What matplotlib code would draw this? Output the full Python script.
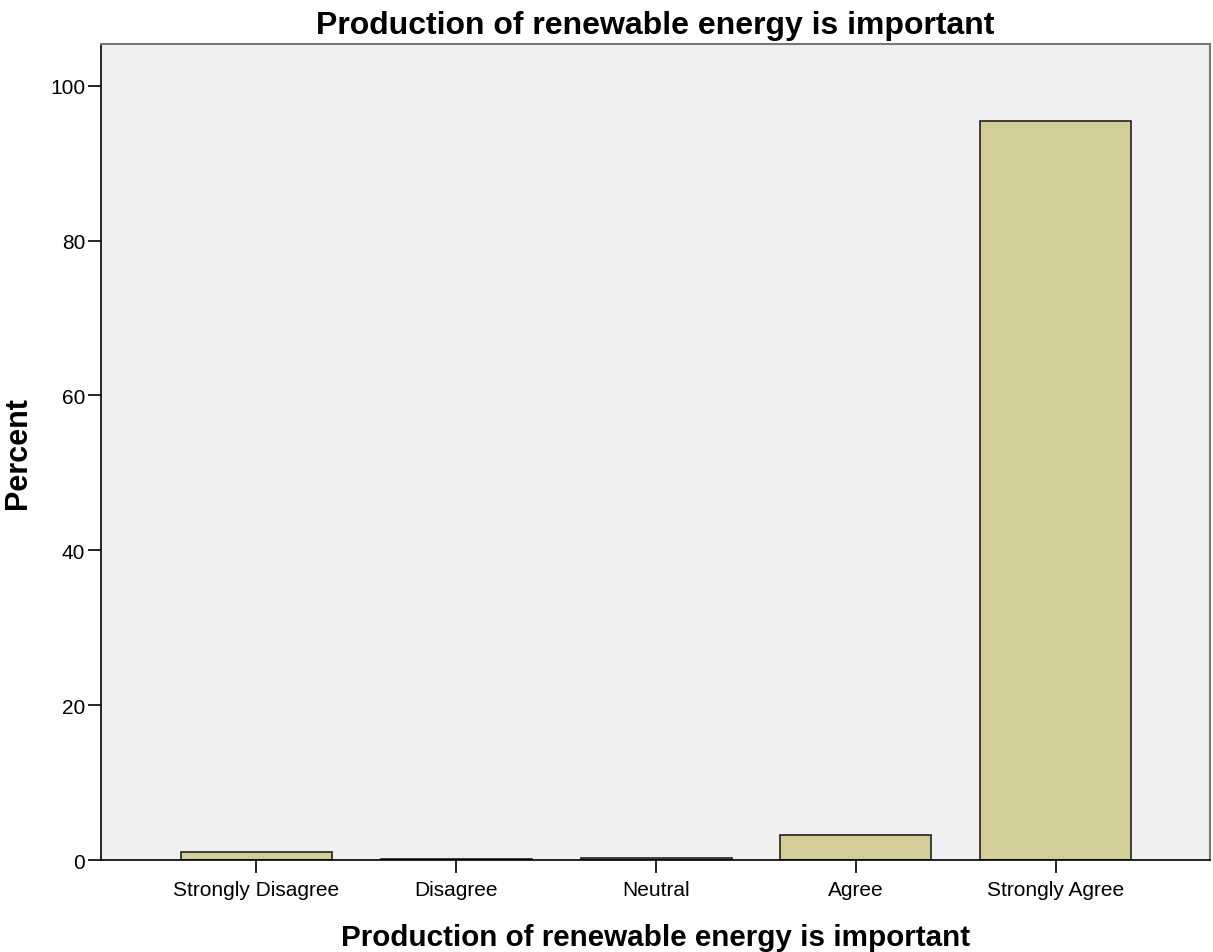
import matplotlib
matplotlib.use("Agg")
import matplotlib.pyplot as plt

# Response categories and percent of respondents
categories = ["Strongly Disagree", "Disagree", "Neutral", "Agree", "Strongly Agree"]
percents = [1.0, 0.1, 0.3, 3.2, 95.5]
y_ticks = [0, 20, 40, 60, 80, 100]

plt.rcParams['font.family'] = ['Liberation Sans', 'DejaVu Sans']

fig = plt.figure(figsize=(12.13, 9.53), dpi=100)
ax = fig.add_axes([0.0833, 0.0965, 0.9142, 0.8563])
ax.set_facecolor('#f0f0f0')

x = range(len(categories))
ax.bar(x, percents, width=0.755, color='#d3ce97', edgecolor='#222222', linewidth=1.2)

ax.set_xlim(-0.775, 4.77)
ax.set_ylim(0, 105.4)
ax.set_xticks(list(x))
ax.set_xticklabels(categories, fontsize=15)
ax.set_yticks(y_ticks)
ax.set_yticklabels([str(v) for v in y_ticks], fontsize=15)
ax.tick_params(axis='both', direction='out', length=9.5, width=1.2, color='black', pad=2)
ax.tick_params(axis='x', pad=5)

for side in ['left', 'bottom']:
    ax.spines[side].set_color('black')
    ax.spines[side].set_linewidth(1.2)
for side in ['top', 'right']:
    ax.spines[side].set_color('#777777')
    ax.spines[side].set_linewidth(1.5)

ax.set_xlabel("Production of renewable energy is important", fontsize=21.3, fontweight='bold', labelpad=17)
ax.set_ylabel("Percent", fontsize=22, fontweight='bold', labelpad=12)
ax.set_title("Production of renewable energy is important", fontsize=23, fontweight='bold', pad=8)

fig.savefig("out.png", dpi=100)
